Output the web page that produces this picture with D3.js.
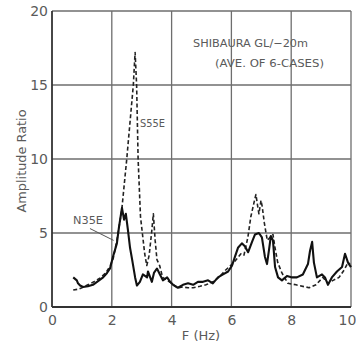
<!DOCTYPE html>
<html>
<head>
<meta charset="utf-8">
<script src="https://cdn.jsdelivr.net/npm/d3@7"></script>
<style>
  html, body { margin: 0; padding: 0; background: #fff; }
  svg text { font-family: "DejaVu Sans", sans-serif; fill: #5a5a5a; }
</style>
</head>
<body>
<svg id="chart" width="356" height="351"></svg>
<script>
// Frequency axis ticks (Hz) and amplitude ratio ticks
const xTicks = [0, 2, 4, 6, 8, 10];
const yTicks = [0, 5, 10, 15, 20];

// N35E component: [frequency (Hz), amplitude ratio]
const n35eFreq = [0.71,0.83,0.87,0.94,1.04,1.2,1.37,1.54,1.71,1.84,1.94,2.04,2.17,2.24,2.31,2.34,2.41,2.47,2.54,2.61,2.68,2.78,2.84,2.94,3.04,3.18,3.21,3.34,3.41,3.51,3.61,3.71,3.85,3.95,4.05,4.21,4.38,4.55,4.72,4.88,5.05,5.22,5.38,5.55,5.72,5.89,6.02,6.12,6.22,6.35,6.45,6.56,6.69,6.79,6.92,7.02,7.12,7.19,7.26,7.32,7.39,7.46,7.56,7.69,7.86,8.03,8.19,8.39,8.56,8.63,8.70,8.76,8.86,9.03,9.13,9.23,9.36,9.53,9.70,9.80,9.90,10.0];
const n35eAmp  = [2.0,1.8,1.6,1.45,1.35,1.4,1.5,1.75,2.0,2.3,2.6,3.4,4.3,5.4,6.3,6.7,5.9,6.3,5.2,4.0,3.2,2.0,1.45,1.7,2.2,2.0,2.4,1.7,2.3,2.6,2.2,1.8,2.0,1.7,1.5,1.3,1.5,1.6,1.5,1.7,1.7,1.8,1.6,2.0,2.2,2.4,2.8,3.4,4.0,4.3,4.1,3.7,4.4,4.9,5.0,4.7,3.4,2.9,3.9,4.8,4.5,2.7,2.0,1.8,2.1,2.0,2.0,2.2,2.9,3.8,4.4,3.0,2.0,2.2,2.0,1.5,2.0,2.4,2.7,3.6,3.0,2.7];

// S55E component: [frequency (Hz), amplitude ratio]
const s55eFreq = [0.71,0.87,1.0,1.2,1.4,1.6,1.8,1.95,2.05,2.17,2.25,2.33,2.5,2.72,2.76,2.78,2.83,2.88,2.96,3.1,3.17,3.25,3.33,3.39,3.45,3.51,3.6,3.7,3.85,4.0,4.2,4.38,4.55,4.72,4.95,5.15,5.38,5.58,5.81,6.08,6.32,6.42,6.55,6.65,6.75,6.82,6.88,6.92,6.99,7.03,7.1,7.2,7.29,7.39,7.45,7.55,7.69,7.89,8.16,8.49,8.6,8.83,9.06,9.23,9.4,9.6,9.77,9.9,9.97];
const s55eAmp  = [1.15,1.2,1.3,1.5,1.7,1.95,2.3,2.8,3.3,4.5,5.5,6.5,10.0,15.0,16.5,17.2,15.0,10.0,6.1,3.6,2.8,3.5,5.0,6.3,4.5,3.2,2.8,2.0,1.8,1.6,1.3,1.35,1.3,1.3,1.4,1.5,1.7,2.0,2.5,3.0,3.6,3.5,4.7,6.1,7.0,7.6,6.8,6.3,7.2,6.8,5.7,4.5,4.7,4.9,4.1,3.0,2.3,1.6,1.5,1.35,1.3,1.5,2.0,1.6,1.8,2.0,2.5,3.0,2.9];

const svg = d3.select("#chart");
const x = d3.scaleLinear().domain([0, 10]).range([52, 351]);
const y = d3.scaleLinear().domain([0, 20]).range([307, 11]);

// grid
const grid = svg.append("g").attr("stroke", "#6e6e6e").attr("stroke-width", 1.3);
grid.selectAll("line.v").data(xTicks.slice(1)).join("line")
  .attr("x1", d => x(d)).attr("x2", d => x(d))
  .attr("y1", y(20)).attr("y2", y(0));
grid.selectAll("line.h").data(yTicks.slice(1)).join("line")
  .attr("x1", x(0)).attr("x2", x(10))
  .attr("y1", d => y(d)).attr("y2", d => y(d));

// frame (left and bottom axes heavier)
svg.append("line").attr("x1", x(0)).attr("x2", x(0)).attr("y1", y(20)).attr("y2", y(0))
  .attr("stroke", "#333").attr("stroke-width", 1.8);
svg.append("line").attr("x1", x(0)).attr("x2", x(10)).attr("y1", y(0)).attr("y2", y(0))
  .attr("stroke", "#333").attr("stroke-width", 1.8);

// axes labels via d3 axes (domain & tick marks hidden)
const xAxis = svg.append("g").attr("transform", `translate(0,${y(0)})`)
  .call(d3.axisBottom(x).tickValues(xTicks).tickSize(0).tickPadding(7).tickFormat(d3.format("d")));
xAxis.select(".domain").remove();
xAxis.selectAll("text").attr("font-size", 14).attr("dy", "0.75em");
// keep the last label inside the page edge
xAxis.selectAll(".tick").filter(d => d === 10).select("text").attr("dx", -4);

const yAxis = svg.append("g").attr("transform", `translate(${x(0)},0)`)
  .call(d3.axisLeft(y).tickValues(yTicks).tickSize(0).tickPadding(4).tickFormat(d3.format("d")));
yAxis.select(".domain").remove();
yAxis.selectAll("text").attr("font-size", 14);
svg.selectAll(".tick text").style("fill", "#5a5a5a").style("font-family", "DejaVu Sans, sans-serif");

svg.append("text").attr("x", 201).attr("y", 340).attr("text-anchor", "middle")
  .attr("font-size", 13).text("F (Hz)");
svg.append("text").attr("transform", "translate(26,161) rotate(-90)")
  .attr("text-anchor", "middle").attr("font-size", 12)
  .attr("textLength", 103).attr("lengthAdjust", "spacingAndGlyphs").text("Amplitude Ratio");

// curves
const line = d3.line().x(d => x(d[0])).y(d => y(d[1])).curve(d3.curveLinear);
const s55e = s55eFreq.map((f, i) => [f, s55eAmp[i]]);
const n35e = n35eFreq.map((f, i) => [f, n35eAmp[i]]);

svg.append("path").datum(s55e).attr("d", line)
  .attr("fill", "none").attr("stroke", "#222").attr("stroke-width", 1.6)
  .attr("stroke-dasharray", "4,2.5").attr("stroke-linejoin", "round");
svg.append("path").datum(n35e).attr("d", line)
  .attr("fill", "none").attr("stroke", "#111").attr("stroke-width", 2.1)
  .attr("stroke-linejoin", "round");

// series labels
svg.append("text").attr("x", 140).attr("y", 126.5).attr("font-size", 10.5)
  .attr("textLength", 25).attr("lengthAdjust", "spacingAndGlyphs").text("S55E");
svg.append("text").attr("x", 73).attr("y", 224).attr("font-size", 10.5)
  .attr("textLength", 30).attr("lengthAdjust", "spacingAndGlyphs").text("N35E");
svg.append("line").attr("x1", x(1.27)).attr("y1", y(5.3)).attr("x2", x(2.06)).attr("y2", y(4.5))
  .attr("stroke", "#555").attr("stroke-width", 1);

// site annotation
svg.append("text").attr("x", 193).attr("y", 46.5).attr("font-size", 11)
  .attr("textLength", 115).attr("lengthAdjust", "spacingAndGlyphs").text("SHIBAURA GL/\u221220m");
svg.append("text").attr("x", 215).attr("y", 66.5).attr("font-size", 11)
  .attr("textLength", 109).attr("lengthAdjust", "spacingAndGlyphs").text("(AVE. OF 6-CASES)");
</script>
</body>
</html>
